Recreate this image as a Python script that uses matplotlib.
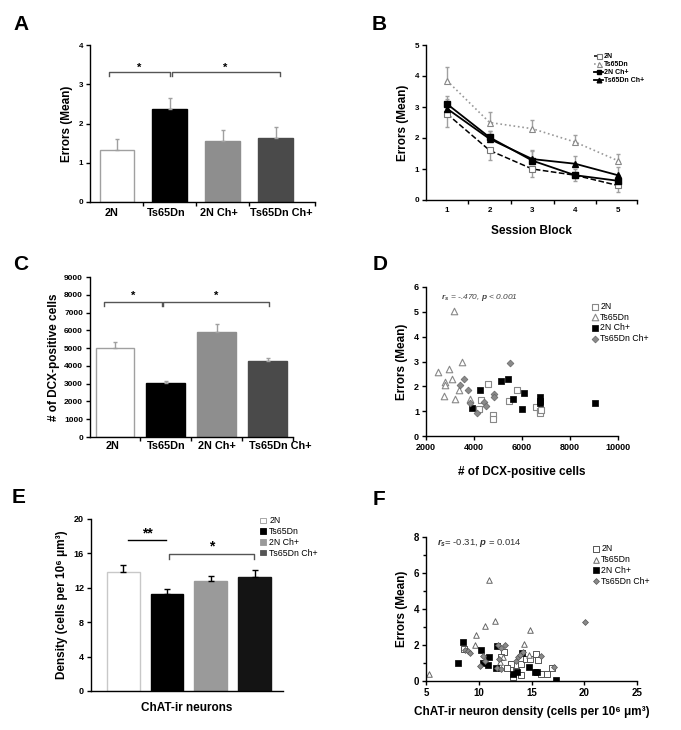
import matplotlib
matplotlib.use('Agg')
import matplotlib.pyplot as plt
from matplotlib.lines import Line2D
from matplotlib.patches import Patch
from matplotlib.ticker import MultipleLocator, FixedLocator, NullFormatter

plt.rcParams['font.family'] = ['Liberation Sans', 'DejaVu Sans']
plt.rcParams['font.weight'] = 'bold'
plt.rcParams['axes.labelweight'] = 'bold'
plt.rcParams['mathtext.fontset'] = 'custom'
plt.rcParams['mathtext.rm'] = 'Liberation Sans'
plt.rcParams['mathtext.it'] = 'Liberation Sans:italic'

# ---------------- data ----------------
groups = ['2N', 'Ts65Dn', '2N Ch+', 'Ts65Dn Ch+']

# A: errors (mean)
a_means = [1.33, 2.36, 1.56, 1.64]
a_err = [0.28, 0.28, 0.27, 0.28]

# B: errors by session block
sessions = [1, 2, 3, 4, 5]
b_2n = [2.78, 1.60, 1.00, 0.80, 0.47]
b_2n_err = [0.42, 0.32, 0.25, 0.20, 0.20]
b_ts = [3.85, 2.50, 2.30, 1.87, 1.27]
b_ts_err = [0.43, 0.33, 0.27, 0.22, 0.22]
b_2nch = [3.10, 2.02, 1.27, 0.80, 0.62]
b_2nch_err = [0.27, 0.22, 0.30, 0.20, 0.20]
b_tsch = [2.95, 1.97, 1.32, 1.17, 0.80]
b_tsch_err = [0.30, 0.25, 0.30, 0.25, 0.25]

# C: DCX-positive cells
c_means = [5030, 3040, 5930, 4280]
c_err = [330, 110, 420, 170]

# D: errors vs DCX-positive cells
d_2n_x = [4590, 4290, 4200, 4800, 4800, 5810, 5450, 6600, 6740, 6740, 6780]
d_2n_y = [2.08, 1.45, 1.08, 0.84, 0.67, 1.87, 1.39, 1.18, 1.00, 0.91, 1.05]
d_ts_x = [3180, 2485, 2960, 3500, 2775, 3065, 2775, 3370, 2760, 3205, 3830]
d_ts_y = [5.02, 2.58, 2.70, 2.99, 2.18, 2.28, 2.04, 1.87, 1.61, 1.49, 1.50]
d_2nch_x = [4245, 3930, 5105, 5410, 5630, 6090, 5990, 6740, 6740, 6770, 9030]
d_2nch_y = [1.86, 1.14, 2.22, 2.28, 1.51, 1.74, 1.07, 1.58, 1.42, 1.31, 1.31]
d_tsch_x = [3595, 3415, 3760, 5520, 4830, 4840, 3830, 4410, 4520, 4105]
d_tsch_y = [2.30, 2.07, 1.87, 2.95, 1.69, 1.57, 1.31, 1.35, 1.22, 0.94]

# E: ChAT-ir neuron density
e_means = [13.8, 11.3, 12.8, 13.3]
e_err = [0.8, 0.6, 0.55, 0.75]

# F: errors vs ChAT-ir neuron density
f_2n_x = [8.6, 12.4, 12.1, 13.1, 12.7, 13.2, 14.0, 14.0, 14.5, 14.9, 15.4, 15.6, 15.9, 16.5, 16.9, 13.5]
f_2n_y = [1.78, 1.63, 1.31, 0.93, 0.70, 0.20, 0.93, 0.33, 1.20, 1.20, 1.50, 1.17, 0.39, 0.39, 0.74, 0.55]
f_ts_x = [5.3, 11.0, 10.6, 11.5, 9.7, 9.6, 14.9, 14.3, 14.8, 12.0, 12.3]
f_ts_y = [0.37, 5.62, 3.08, 3.36, 2.53, 1.98, 2.85, 2.08, 1.47, 1.05, 1.33]
f_2nch_x = [8.5, 8.0, 10.2, 10.4, 11.0, 10.9, 11.7, 11.6, 13.2, 13.6, 14.1, 14.8, 15.3, 15.5, 17.3]
f_2nch_y = [2.15, 1.00, 1.74, 1.00, 1.33, 0.87, 1.93, 0.74, 0.39, 0.52, 1.54, 0.78, 0.52, 0.52, 0.06]
f_tsch_x = [8.7, 9.0, 9.2, 10.1, 10.4, 11.8, 12.1, 12.5, 11.9, 11.7, 12.1, 13.5, 13.7, 13.9, 14.2, 15.9, 17.1, 20.1, 10.6]
f_tsch_y = [1.74, 1.65, 1.57, 0.83, 1.39, 2.02, 1.85, 2.00, 1.20, 0.70, 0.65, 1.13, 1.31, 1.44, 1.63, 1.37, 0.80, 3.30, 1.10]

# ---------------- figure ----------------
W, H = 681, 730
fig = plt.figure(figsize=(W / 100, H / 100), dpi=100)


def ax_px(l, t, r, b):
    return fig.add_axes([l / W, 1 - b / H, (r - l) / W, (b - t) / H])


def style(ax, fs=6.5):
    for s in ['top', 'right']:
        ax.spines[s].set_visible(False)
    for s in ['left', 'bottom']:
        ax.spines[s].set_linewidth(1.0)
    ax.tick_params(direction='out', length=3, width=1, labelsize=fs, pad=2)
    for lab in ax.get_xticklabels() + ax.get_yticklabels():
        lab.set_fontweight('bold')


def letter(x, y, s):
    fig.text(x / W, 1 - y / H, s, fontsize=15, fontweight='bold', ha='left', va='baseline')


def bracket(ax, x0, x1, y, tip, star, ys, fs=8):
    ax.plot([x0, x0, x1, x1], [y - tip, y, y, y - tip], color='#555555', lw=1.0, clip_on=False)
    ax.text((x0 + x1) / 2, ys, star, ha='center', va='center', fontsize=fs, fontweight='bold')


bar_cols = ['white', 'black', '#8e8e8e', '#4a4a4a']
bar_edges = ['#a0a0a0', 'black', '#8e8e8e', '#4a4a4a']
xs = list(range(4))

# ---- A ----
axA = ax_px(90, 45, 315, 202)
axA.bar(xs, a_means, width=0.66, color=bar_cols, edgecolor=bar_edges, linewidth=1.0)
axA.errorbar(xs, a_means, yerr=[[0] * 4, a_err], fmt='none', ecolor='#a0a0a0',
             elinewidth=1.0, capsize=1.5, capthick=1.0)
axA.set_xlim(-0.51, 3.74)
axA.set_ylim(0, 4)
axA.set_yticks([0, 1, 2, 3, 4])
axA.xaxis.set_major_locator(FixedLocator([0.5, 1.5, 2.5, 3.74]))
axA.xaxis.set_major_formatter(NullFormatter())
axA.xaxis.set_minor_locator(FixedLocator([-0.1, 0.93, 1.93, 3.1]))
axA.set_xticklabels(groups, minor=True)
axA.tick_params(axis='x', which='minor', length=0, labelsize=7.8, pad=4)
axA.set_ylabel('Errors (Mean)', fontsize=8.5, labelpad=4)
style(axA, 5.8)
for lab in axA.get_xticklabels(minor=True):
    lab.set_fontweight('bold')
bracket(axA, -0.15, 1.0, 3.3, 0.08, '*', 3.42)
bracket(axA, 1.03, 3.07, 3.3, 0.08, '*', 3.42)
letter(13, 30, 'A')

# ---- B ----
axB = ax_px(426, 45, 637, 200)
axB.errorbar(sessions, b_2n, yerr=[b_2n_err, [0] * 5], fmt='none', ecolor='#a0a0a0', elinewidth=1, capsize=1.5)
axB.errorbar(sessions, b_ts, yerr=[[0] * 5, b_ts_err], fmt='none', ecolor='#a0a0a0', elinewidth=1, capsize=1.5)
axB.errorbar(sessions, b_2nch, yerr=[[0] * 5, b_2nch_err], fmt='none', ecolor='#a0a0a0', elinewidth=1, capsize=1.5)
axB.errorbar(sessions, b_tsch, yerr=[[0] * 5, b_tsch_err], fmt='none', ecolor='#a0a0a0', elinewidth=1, capsize=1.5)
l1, = axB.plot(sessions, b_2n, ls='--', color='black', lw=1.1, marker='s', ms=4.5,
               mfc='white', mec='#777777', mew=0.8, label='2N')
l2, = axB.plot(sessions, b_ts, ls=':', color='#999999', lw=1.2, marker='^', ms=4.5,
               mfc='white', mec='#888888', mew=0.8, label='Ts65Dn')
l3, = axB.plot(sessions, b_2nch, ls='-', color='black', lw=1.3, marker='s', ms=4.2,
               mfc='black', mec='black', label='2N Ch+')
l4, = axB.plot(sessions, b_tsch, ls='-', color='black', lw=1.3, marker='^', ms=4.2,
               mfc='black', mec='black', label='Ts65Dn Ch+')
axB.set_xlim(0.51, 5.45)
axB.set_ylim(0, 5)
axB.set_yticks([0, 1, 2, 3, 4, 5])
axB.xaxis.set_major_locator(FixedLocator([1.5, 2.5, 3.5, 4.5, 5.45]))
axB.xaxis.set_major_formatter(NullFormatter())
axB.xaxis.set_minor_locator(FixedLocator(sessions))
axB.set_xticklabels([str(s) for s in sessions], minor=True)
axB.tick_params(axis='x', which='minor', length=0, labelsize=5.8, pad=5)
axB.set_ylabel('Errors (Mean)', fontsize=8.5, labelpad=4)
axB.set_xlabel('Session Block', fontsize=8.5, labelpad=8)
style(axB, 5.8)
for lab in axB.get_xticklabels(minor=True):
    lab.set_fontweight('bold')
legB = axB.legend(handles=[l1, l2, l3, l4], loc='upper left', bbox_to_anchor=(0.78, 0.97),
                  frameon=False, fontsize=5, handlelength=1.3, handletextpad=0.1,
                  labelspacing=0.15, borderpad=0, markerscale=0.8)
letter(372, 30, 'B')

# ---- C ----
axC = ax_px(90, 277, 293, 437)
axC.bar(xs, c_means, width=0.76, color=bar_cols, edgecolor=bar_edges, linewidth=1.0)
axC.errorbar(xs, c_means, yerr=[[0] * 4, c_err], fmt='none', ecolor='#a0a0a0',
             elinewidth=1.0, capsize=1.5, capthick=1.0)
axC.set_xlim(-0.49, 3.5)
axC.set_ylim(0, 9000)
axC.set_yticks(range(0, 9001, 1000))
axC.xaxis.set_major_locator(FixedLocator([0.5, 1.5, 2.5, 3.5]))
axC.xaxis.set_major_formatter(NullFormatter())
axC.xaxis.set_minor_locator(FixedLocator([-0.05, 1.0, 2.0, 3.25]))
axC.set_xticklabels(groups, minor=True)
axC.tick_params(axis='x', which='minor', length=0, labelsize=7.8, pad=3)
axC.set_ylabel('# of DCX-positive cells', fontsize=8.5, labelpad=3)
style(axC, 6)
for lab in axC.get_xticklabels(minor=True):
    lab.set_fontweight('bold')
bracket(axC, -0.22, 0.92, 7600, 250, '*', 7950)
bracket(axC, 0.95, 3.02, 7600, 250, '*', 7950)
letter(13, 270, 'C')

# ---- D ----
axD = ax_px(426, 287, 618, 436)
sD1 = axD.scatter(d_2n_x, d_2n_y, marker='s', s=22, facecolor='white', edgecolor='#888888', linewidth=0.8, label='2N')
sD2 = axD.scatter(d_ts_x, d_ts_y, marker='^', s=22, facecolor='white', edgecolor='#888888', linewidth=0.8, label='Ts65Dn')
sD3 = axD.scatter(d_2nch_x, d_2nch_y, marker='s', s=22, facecolor='black', edgecolor='black', linewidth=0.5, label='2N Ch+')
sD4 = axD.scatter(d_tsch_x, d_tsch_y, marker='D', s=12, facecolor='#8a8a8a', edgecolor='#666666', linewidth=0.5, label='Ts65Dn Ch+')
axD.set_xlim(2000, 10000)
axD.set_ylim(0, 6)
axD.set_xticks(range(2000, 10001, 2000))
axD.set_yticks(range(0, 7))
axD.set_ylabel('Errors (Mean)', fontsize=8.5, labelpad=4)
axD.set_xlabel('# of DCX-positive cells', fontsize=8.5, labelpad=10)
style(axD, 6.5)
axD.text(0.08, 0.93, r'$r_s$ = -.470, $p$ < 0.001', transform=axD.transAxes, fontsize=6,
         fontweight='normal', style='italic', color='#444444', ha='left', va='center')
axD.legend(handles=[sD1, sD2, sD3, sD4], loc='upper left', bbox_to_anchor=(0.83, 0.93),
           frameon=False, prop={'size': 6.3, 'weight': 'normal'}, handletextpad=0.0,
           labelspacing=0.2, borderpad=0, scatterpoints=1, handlelength=1.2)
letter(373, 270, 'D')

# ---- E ----
e_cols = ['white', 'black', '#9a9a9a', '#141414']
e_edges = ['#c8c8c8', 'black', '#9a9a9a', '#141414']
axE = ax_px(91, 519, 283, 691)
axE.bar(xs, e_means, width=0.75, color=e_cols, edgecolor=e_edges, linewidth=1.0)
axE.errorbar(xs, e_means, yerr=[[0] * 4, e_err], fmt='none', ecolor='black',
             elinewidth=1.0, capsize=2.5, capthick=1.0)
axE.set_xlim(-0.73, 3.64)
axE.set_ylim(0, 20)
axE.set_yticks(range(0, 21, 4))
axE.set_xticks([])
axE.set_ylabel('Density (cells per 10⁶ μm³)', fontsize=8.5, labelpad=4)
axE.set_xlabel('ChAT-ir neurons', fontsize=8.5, labelpad=8)
style(axE, 6.5)
axE.plot([0.12, 0.98], [17.6, 17.6], color='black', lw=1.0, clip_on=False)
axE.text(0.55, 18.3, '**', ha='center', va='center', fontsize=10, fontweight='bold')
bracket(axE, 1.05, 2.98, 15.9, 0.55, '*', 16.8, fs=10)
hE = [Patch(facecolor=c, edgecolor=e, linewidth=0.6) for c, e in
      zip(['white', 'black', '#9a9a9a', '#555555'], ['#999999', 'black', '#9a9a9a', '#555555'])]
axE.legend(handles=hE, labels=groups, loc='upper left', bbox_to_anchor=(0.86, 1.04),
           frameon=False, prop={'size': 6.3, 'weight': 'normal'}, handlelength=0.6,
           handleheight=0.6, handletextpad=0.4, labelspacing=0.2, borderpad=0)
letter(12, 503, 'E')

# ---- F ----
axF = ax_px(426, 537, 637, 681)
sF1 = axF.scatter(f_2n_x, f_2n_y, marker='s', s=14, facecolor='white', edgecolor='#555555', linewidth=0.7, label='2N')
sF2 = axF.scatter(f_ts_x, f_ts_y, marker='^', s=16, facecolor='white', edgecolor='#666666', linewidth=0.7, label='Ts65Dn')
sF3 = axF.scatter(f_2nch_x, f_2nch_y, marker='s', s=14, facecolor='black', edgecolor='black', linewidth=0.5, label='2N Ch+')
sF4 = axF.scatter(f_tsch_x, f_tsch_y, marker='D', s=9, facecolor='#8a8a8a', edgecolor='#555555', linewidth=0.5, label='Ts65Dn Ch+')
axF.set_xlim(5, 25)
axF.set_ylim(0, 8)
axF.set_xticks([5, 10, 15, 20, 25])
axF.set_yticks([0, 2, 4, 6, 8])
axF.yaxis.set_minor_locator(MultipleLocator(1))
axF.tick_params(axis='y', which='minor', length=2, width=1)
axF.set_ylabel('Errors (Mean)', fontsize=8.5, labelpad=4)
axF.set_xlabel('ChAT-ir neuron density (cells per 10⁶ μm³)', fontsize=8.5, labelpad=6)
style(axF, 7)
axF.text(0.05, 0.96, r'$r_s$= -0.31, $p$ = 0.014', transform=axF.transAxes, fontsize=6.8,
         fontweight='normal', color='#333333', ha='left', va='center')
axF.legend(handles=[sF1, sF2, sF3, sF4], loc='upper left', bbox_to_anchor=(0.76, 0.98),
           frameon=False, prop={'size': 6.3, 'weight': 'normal'}, handletextpad=0.0,
           labelspacing=0.2, borderpad=0, scatterpoints=1, handlelength=1.2)
letter(373, 505, 'F')

fig.savefig('out.png', dpi=100)
